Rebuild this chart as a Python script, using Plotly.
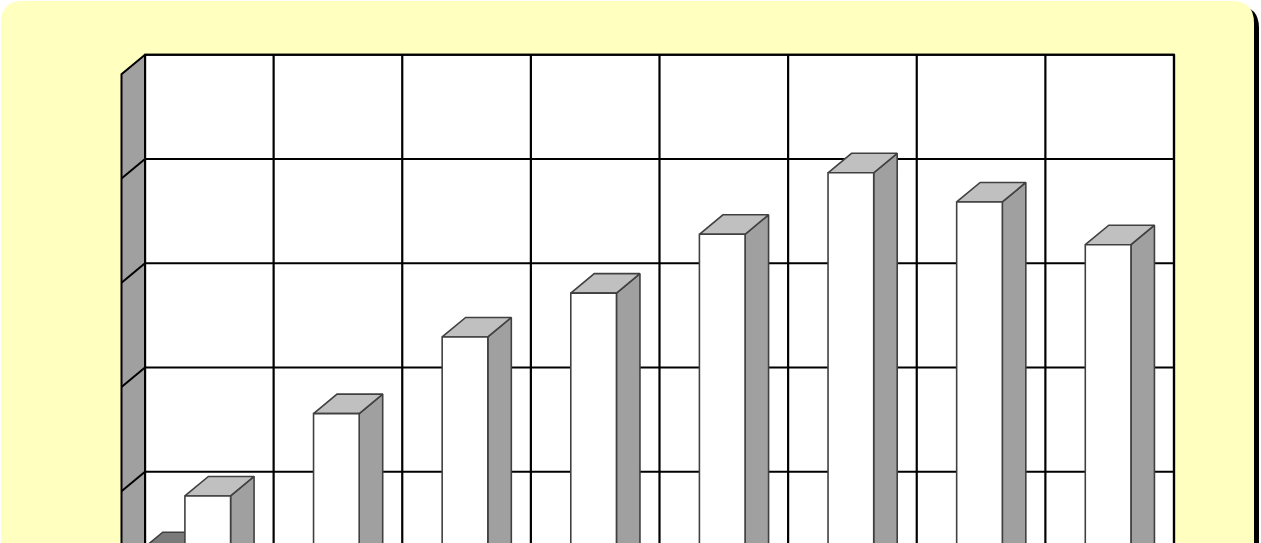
import plotly.graph_objects as go

# chart values
categories = ['1', '2', '3', '4', '5', '6', '7', '8']
series_a = [8.4, 5.5, 6.0, 5.0, 5.5, 6.0, 5.5, 5.0]        # dark series, mostly hidden below the crop
series_b = [19.1, 34.9, 49.6, 58.0, 69.3, 81.1, 75.5, 67.3]  # white bars
y_ticks = [0, 20, 40, 60, 80, 100]

W, H = 1261, 543
PX_CAT = 128.625   # px per category on the back wall
PX_VAL = 5.2125    # px per value unit
X0_PX, Y0_PX = 145, 576  # back wall origin in page pixels

# oblique depth (front plane is left/down of the back wall)
DX = -23.5 / PX_CAT
DY = -19.5 / PX_VAL
BAR_W = 0.355
OFF_A, OFF_B = 0.138, 0.493
n = len(categories)
top_val = y_ticks[-1]

fig = go.Figure()


def poly_trace(polys, fill, line_color, line_width):
    xs, ys = [], []
    for p in polys:
        for (px, py) in p + [p[0]]:
            xs.append(px)
            ys.append(py)
        xs.append(None)
        ys.append(None)
    return go.Scatter(x=xs, y=ys, mode='lines', fill='toself', fillcolor=fill,
                      line=dict(color=line_color, width=line_width),
                      hoverinfo='skip', showlegend=False)


def line_trace(segs, color, width):
    xs, ys = [], []
    for (a, b) in segs:
        xs += [a[0], b[0], None]
        ys += [a[1], b[1], None]
    return go.Scatter(x=xs, y=ys, mode='lines', line=dict(color=color, width=width),
                      hoverinfo='skip', showlegend=False)


# back wall
fig.add_trace(poly_trace([[(0, 0), (n, 0), (n, top_val), (0, top_val)]], 'white', 'black', 2.2))
grid = [((0, t), (n, t)) for t in y_ticks] + [((i, 0), (i, top_val)) for i in range(n + 1)]
fig.add_trace(line_trace(grid, 'black', 2.2))

# floor
fig.add_trace(poly_trace([[(0, 0), (n, 0), (n + DX, DY), (DX, DY)]], '#A0A0A0', 'black', 2))

# left wall
fig.add_trace(poly_trace([[(0, 0), (0, top_val), (DX, top_val + DY), (DX, DY)]], '#A0A0A0', 'black', 2))
fig.add_trace(line_trace([((0, t), (DX, t + DY)) for t in y_ticks[1:-1]], 'black', 2))


def bar_faces(values, off):
    front, top, side = [], [], []
    for i, v in enumerate(values):
        xb = i + off
        xf = xb + DX
        front.append([(xf, DY), (xf + BAR_W, DY), (xf + BAR_W, v + DY), (xf, v + DY)])
        top.append([(xf, v + DY), (xf + BAR_W, v + DY), (xb + BAR_W, v), (xb, v)])
        side.append([(xf + BAR_W, DY), (xb + BAR_W, 0), (xb + BAR_W, v), (xf + BAR_W, v + DY)])
    return front, top, side


for vals, off, cols in [(series_a, OFF_A, ('#666666', '#7A7A7A', '#555555')),
                        (series_b, OFF_B, ('white', '#C0C0C0', '#A0A0A0'))]:
    front, top, side = bar_faces(vals, off)
    fig.add_trace(poly_trace(side, cols[2], '#404040', 1.6))
    fig.add_trace(poly_trace(top, cols[1], '#404040', 1.6))
    fig.add_trace(poly_trace(front, cols[0], '#404040', 1.6))


# rounded yellow panel with black drop shadow (paper coords)
def rrect_path(x0, y0, x1, y1, r):
    def p(x, y):
        return f"{x / W:.5f},{1 - y / H:.5f}"
    return (f"M {p(x0 + r, y0)} L {p(x1 - r, y0)} Q {p(x1, y0)} {p(x1, y0 + r)} "
            f"L {p(x1, y1 - r)} Q {p(x1, y1)} {p(x1 - r, y1)} L {p(x0 + r, y1)} "
            f"Q {p(x0, y1)} {p(x0, y1 - r)} L {p(x0, y0 + r)} Q {p(x0, y0)} {p(x0 + r, y0)} Z")


fig.update_layout(
    width=W, height=H,
    margin=dict(l=0, r=0, t=0, b=0),
    paper_bgcolor='white',
    plot_bgcolor='rgba(0,0,0,0)',
    xaxis=dict(range=[-X0_PX / PX_CAT, (W - X0_PX) / PX_CAT], visible=False, fixedrange=True),
    yaxis=dict(range=[(Y0_PX - H) / PX_VAL, Y0_PX / PX_VAL], visible=False, fixedrange=True),
    shapes=[
        dict(type='path', xref='paper', yref='paper', layer='below',
             path=rrect_path(6, 6, 1259, 620, 22), fillcolor='black', line=dict(width=0)),
        dict(type='path', xref='paper', yref='paper', layer='below',
             path=rrect_path(1, 1, 1254, 615, 22), fillcolor='#FFFFC0', line=dict(width=0)),
    ],
)

# drop the page's default body margin so the figure sits at the window corner
fig.write_html("out.html", config={'displayModeBar': False},
               post_script="document.body.style.margin='0px';")
